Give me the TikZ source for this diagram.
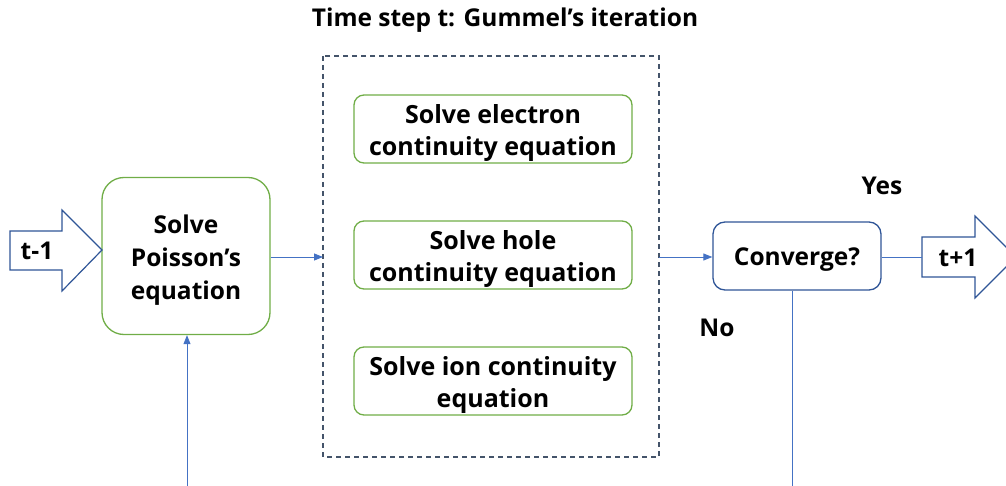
\documentclass[tikz,border=0pt]{standalone}
\usepackage{fontspec}
\setmainfont{Open Sans}
\usetikzlibrary{arrows.meta}
\definecolor{boxgreen}{HTML}{70AD47}
\definecolor{lineblue}{HTML}{4472C4}
\definecolor{darkblue}{HTML}{2F5597}
\definecolor{slate}{HTML}{44546A}
\tikzset{
  stepbox/.style={draw=boxgreen, line width=1.3pt, rounded corners=10pt, inner sep=0pt,
    minimum width=278pt, minimum height=68pt},
  poissonbox/.style={draw=boxgreen, line width=1.3pt, rounded corners=22pt, inner sep=0pt,
    minimum width=168pt, minimum height=157pt},
  convbox/.style={draw=darkblue, line width=1.3pt, rounded corners=12pt, inner sep=0pt,
    minimum width=168pt, minimum height=68pt},
  % text set inside a box, a little below the box centre
  boxtext/.style={align=center, inner sep=0pt, yshift=-4pt, font=\fontsize{25}{32}\selectfont\bfseries},
  poissontext/.style={boxtext, font=\fontsize{24.5}{33}\selectfont\bfseries},
  label/.style={font=\fontsize{24.5}{28}\selectfont\bfseries, inner sep=0pt},
  flow/.style={draw=lineblue, line width=0.8pt},
  flowarrow/.style={flow, -{Triangle[length=9pt,width=7pt]}},
  blockarrow/.style={draw=darkblue, line width=1.2pt, fill=white, line join=miter},
}
\begin{document}
\begin{tikzpicture}[x=1pt,y=-1pt]
  \useasboundingbox (0,0) rectangle (1006,486);

  % title and the iteration frame
  \node[label] (title) at (505,20) {Time step t: Gummel’s iteration};
  \draw[slate, line width=1.1pt, dash pattern=on 5pt off 4pt] (323,56) rectangle (659,457);
  \coordinate (framew) at (323,257);
  \coordinate (framee) at (659,257);

  % solvers inside the frame
  \node[stepbox] (electron) at (493,129) {};
  \node[boxtext] (electrontxt) at (electron.center) {Solve electron\\continuity equation};
  \node[stepbox] (hole) at (493,255) {};
  \node[boxtext] (holetxt) at (hole.center) {Solve hole\\continuity equation};
  \node[stepbox] (ion) at (493,381) {};
  \node[boxtext] (iontxt) at (ion.center) {Solve ion continuity\\equation};

  % Poisson solver
  \node[poissonbox] (poisson) at (186,256) {};
  \node[poissontext] (poissontxt) at (poisson.center) {Solve\\Poisson’s\\equation};

  % convergence check
  \node[convbox] (conv) at (797,256) {};
  \node[boxtext, font=\fontsize{24.5}{32}\selectfont\bfseries] (convtxt) at (conv.center) {Converge?};
  \node[label] (yes) at (882,186) {Yes};
  \node[label] (no) at (717,328) {No};

  % incoming time step
  \draw[blockarrow] (10,231) -- (62,231) -- (62,210) -- (102,250) -- (62,291) -- (62,270) -- (10,270) -- cycle;
  \node[label] (tprev) at (37,251) {t-1};

  % outgoing time step
  \draw[blockarrow] (922,237) -- (975,237) -- (975,216) -- (1016,257) -- (975,298) -- (975,277) -- (922,277) -- cycle;
  \coordinate (tnextw) at (922,257);
  \node[label] (tnext) at (958,258) {t+1};

  % connectors
  \coordinate (feedin) at (187,486);
  \coordinate (feedout) at (792,486);
  \draw[flowarrow] (poisson.east |- framew) -- (framew);
  \draw[flowarrow] (framee) -- (conv.west |- framee);
  \draw[flowarrow] (feedin) -- (poisson.south -| feedin);
  \draw[flow] (conv.east |- tnextw) -- (tnextw);
  \draw[flow] (conv.south -| feedout) -- (feedout);
\end{tikzpicture}
\end{document}
